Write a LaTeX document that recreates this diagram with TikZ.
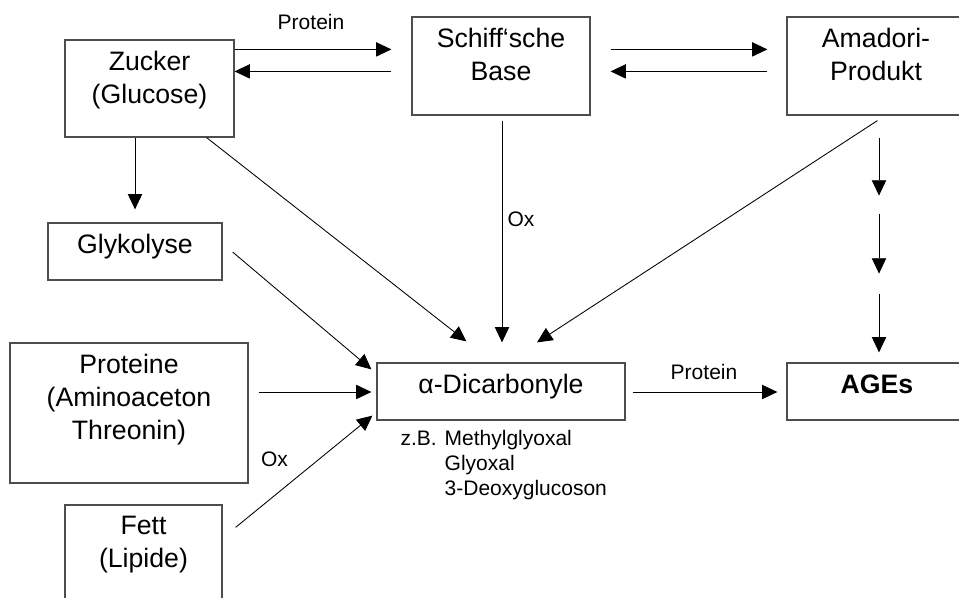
\documentclass[tikz,border=0pt]{standalone}
\usepackage{fontspec}
\setmainfont{Liberation Sans}
\usetikzlibrary{arrows.meta,calc,positioning}

\tikzset{every picture/.style={line width=0.75pt}}

\begin{document}
\begin{tikzpicture}[x=0.75pt,y=0.75pt,yscale=-1,xscale=1,
	box/.style={draw={rgb, 255:red, 77; green, 77; blue, 77 },line width=0.9pt,inner sep=0pt},
	txt/.style={anchor=north,align=center,inner sep=0pt,font=\fontsize{20}{24.5}\selectfont},
	lbl/.style={anchor=base,inner sep=0pt,font=\fontsize{15.75}{18.75}\selectfont},
	arr/.style={-{Triangle[length=11.5pt,width=10.75pt]},line width=0.65pt}]
	\useasboundingbox (0,0) rectangle (959,598);
	\clip (0,0) rectangle (959,598);

	%Shape: Rectangle
	\node[box,minimum width=126.75pt,minimum height=72.75pt] (zucker) at (149.5,88.5) {};
	%Shape: Rectangle
	\node[box,minimum width=133.5pt,minimum height=73.5pt] (schiff) at (501,66) {};
	%Shape: Rectangle
	\node[box,minimum width=133.5pt,minimum height=73.5pt] (amadori) at (876,66) {};
	%Shape: Rectangle
	\node[box,minimum width=130.5pt,minimum height=42.75pt] (glyk) at (135,251.5) {};
	%Shape: Rectangle
	\node[box,minimum width=186pt,minimum height=42.75pt] (dicarb) at (501,391.5) {};
	%Shape: Rectangle
	\node[box,minimum width=135pt,minimum height=42.75pt] (ages) at (877,391.5) {};
	%Shape: Rectangle
	\node[box,minimum width=178.5pt,minimum height=105pt] (prot) at (129,413) {};
	%Shape: Rectangle
	\node[box,minimum width=117.75pt,minimum height=72.75pt] (fett) at (143.5,553.5) {};

	% Text Node
	\node[txt] (tzucker) at ($(zucker.north)+(0,11.5)$) {Zucker\\(Glucose)};
	% Text Node
	\node[txt] (tschiff) at ($(schiff.north)+(0,11.5)$) {Schiff‘sche\\Base};
	% Text Node
	\node[txt] (tamadori) at ($(amadori.north)+(0,11.5)$) {Amadori-\\Produkt};
	% Text Node
	\node[txt] (tglyk) at ($(glyk.north)+(0,11.5)$) {Glykolyse};
	% Text Node
	\node[txt] (tdicarb) at ($(dicarb.north)+(0,11.5)$) {α-Dicarbonyle};
	% Text Node
	\node[txt,font=\fontsize{20}{24.5}\selectfont\bfseries] (tages) at ($(ages.north)+(0,11.5)$) {AGEs};
	% Text Node
	\node[txt] (tprot) at ($(prot.north)+(0,11.5)$) {Proteine\\(Aminoaceton\\Threonin)};
	% Text Node
	\node[txt] (tfett) at ($(fett.north)+(0,11.5)$) {Fett\\(Lipide)};

	% Text Node
	\node[lbl] (protein1) at (311,29.5) {Protein};
	% Text Node
	\node[lbl] (ox1) at (521,227) {Ox};
	% Text Node
	\node[lbl] (ox2) at (274.5,466) {Ox};
	% Text Node
	\node[lbl] (protein2) at (704,379) {Protein};
	% Text Node
	\node[lbl,anchor=base west] (beispiel) at (400,445.7) {\begin{tabular}[t]{@{}l@{\hspace{6pt}}l@{}}z.B. & Methylglyoxal\\ & Glyoxal\\ & 3-Deoxyglucoson\end{tabular}};

	%Straight Lines
	\draw[arr] ($(zucker.north east)+(0,10)$) -- ($(schiff.north west)+(-20,33)$);
	\draw[arr] ($(schiff.north west)+(-20,55)$) -- ($(zucker.north east)+(0,32)$);
	\draw[arr] ($(schiff.north east)+(20,33)$) -- ($(amadori.north west)+(-19,33)$);
	\draw[arr] ($(amadori.north west)+(-19,55)$) -- ($(schiff.north east)+(20,55)$);
	%Straight Lines
	\draw[arr] (zucker.south -| glyk.north) -- ($(glyk.north)+(0,-13)$);
	\draw[arr] ($(zucker.south east)+(-28,0)$) -- ($(dicarb.north west)+(90,-21)$);
	\draw[arr] ($(glyk.east)+(10,0.5)$) -- ($(dicarb.north west)+(-5,7)$);
	\draw[arr] ($(prot.east)+(10,-21)$) -- ($(dicarb.west)+(-5,0.5)$);
	\draw[arr] ($(fett.north east)+(13,23)$) -- ($(dicarb.south west)+(-4,-5)$);
	%Straight Lines
	\draw[arr] ($(schiff.south)+(1,5)$) -- ($(dicarb.north)+(1,-20)$);
	\draw[arr] ($(amadori.south west)+(91,5)$) -- ($(dicarb.north)+(36,-20)$);
	%Straight Lines
	\draw[arr] ($(amadori.south)+(3,22)$) -- ($(amadori.south)+(3,80)$);
	\draw[arr] ($(amadori.south)+(3,98)$) -- ($(amadori.south)+(3,158)$);
	\draw[arr] ($(ages.north)+(2,-68)$) -- ($(ages.north)+(2,-10)$);
	%Straight Lines
	\draw[arr] ($(dicarb.east)+(7,0.5)$) -- ($(ages.west)+(-9,0.5)$);

\end{tikzpicture}
\end{document}
